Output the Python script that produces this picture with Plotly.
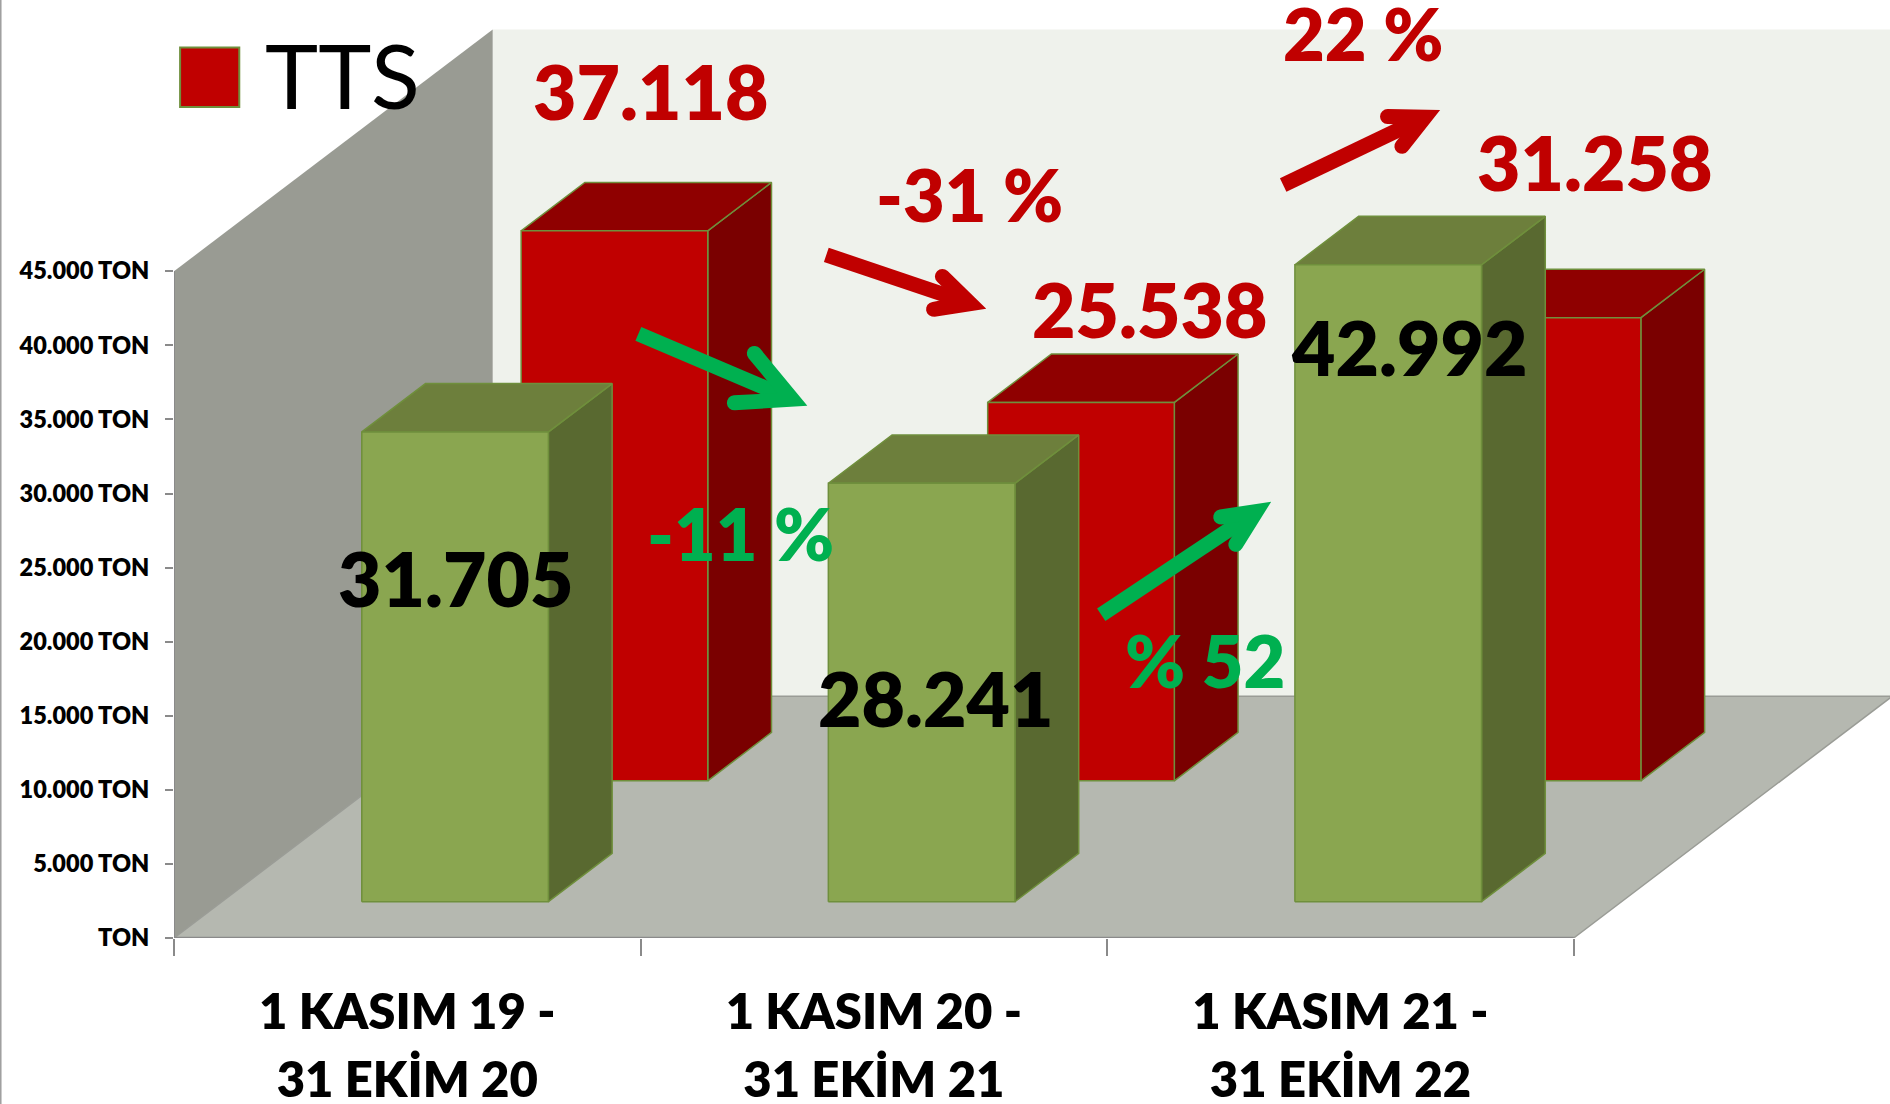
import math
import plotly.graph_objects as go

# ---------- data ----------
category_first = ["1 KASIM 19 -", "1 KASIM 20 -", "1 KASIM 21 -"]
category_second = ["31 EKİM 20", "31 EKİM 21", "31 EKİM 22"]
green_values = [31705, 28241, 42992]
red_values = [37118, 25538, 31258]
legend_name = "TTS"
y_ticks = [0, 5000, 10000, 15000, 20000, 25000, 30000, 35000, 40000, 45000]
y_labels = ["TON", "5.000 TON", "10.000 TON", "15.000 TON", "20.000 TON", "25.000 TON",
            "30.000 TON", "35.000 TON", "40.000 TON", "45.000 TON"]
change_red = ["-31 %", "22 %"]
change_green = ["-11 %", "% 52"]

# ---------- geometry ----------
W, H = 1890, 1104
X0, Y0 = 173.5, 938.5
CAT_PX, TON_PX = 466.7, 667.1 / 45000
DEPTH_X = 318.8 / CAT_PX          # category units per unit of depth
DEPTH_Y = 242 / TON_PX            # tons per unit of depth
X_MAX = (W - X0) / CAT_PX
Y_MAX = Y0 / TON_PX
BAR_W, BAR_GAP, BAR_D = 0.4, 0.3, 0.2
GREEN_D, RED_D = 0.15, 0.65


def px(x, y):
    return (x - X0) / CAT_PX, (Y0 - y) / TON_PX


def proj(x, d, v):
    return x + d * DEPTH_X, v + d * DEPTH_Y


def poly(points, fill, line=None, lw=1.5, name=""):
    xs, ys = zip(*points)
    return go.Scatter(x=list(xs) + [xs[0]], y=list(ys) + [ys[0]], mode="lines", fill="toself",
                      fillcolor=fill, line=dict(color=line or fill, width=lw if line else 0),
                      hoverinfo="skip", showlegend=False, name=name)


def bar(cat, value, depth, front, top, side, edge):
    x0 = cat + BAR_GAP
    x1 = x0 + BAR_W
    d0, d1 = depth, depth + BAR_D
    return [
        poly([proj(x1, d0, 0), proj(x1, d1, 0), proj(x1, d1, value), proj(x1, d0, value)], side, edge),
        poly([proj(x0, d0, value), proj(x1, d0, value), proj(x1, d1, value), proj(x0, d1, value)], top, edge),
        poly([proj(x0, d0, 0), proj(x1, d0, 0), proj(x1, d0, value), proj(x0, d0, value)], front, edge),
    ]


def arrow(tail, tip, b1, b2, color, w=15):
    ax, ay = tip[0] - tail[0], tip[1] - tail[1]
    L = math.hypot(ax, ay)
    ux, uy = ax / L, ay / L
    nx, ny = -uy, ux
    stop = (tip[0] - ux * 30, tip[1] - uy * 30)
    shaft = [(tail[0] + nx * w / 2, tail[1] + ny * w / 2), (stop[0] + nx * w / 2, stop[1] + ny * w / 2),
             (stop[0] - nx * w / 2, stop[1] - ny * w / 2), (tail[0] - nx * w / 2, tail[1] - ny * w / 2)]

    def barb(b):
        # rounded end of one barb: from its outer edge round to its inner edge
        dx, dy = b[0] - tip[0], b[1] - tip[1]
        bl = math.hypot(dx, dy)
        ex, ey = dx / bl, dy / bl
        mx, my = -ey, ex
        if mx * (tail[0] - b[0]) + my * (tail[1] - b[1]) < 0:
            mx, my = -mx, -my
        r = w / 2
        bx, by = b[0] - ex * r, b[1] - ey * r
        cx, cy = bx + mx * r, by + my * r
        return [(cx + r * (-mx * math.cos(t) + ex * math.sin(t)),
                 cy + r * (-my * math.cos(t) + ey * math.sin(t)))
                for t in [k * math.pi / 8 for k in range(9)]]

    cos_a = abs(((tip[0] - b1[0]) * ux + (tip[1] - b1[1]) * uy) / math.hypot(tip[0] - b1[0], tip[1] - b1[1]))
    sin_a = math.sqrt(max(1 - cos_a ** 2, 0.05))
    d = w / sin_a
    notch = (tip[0] - ux * d, tip[1] - uy * d)
    head = list(reversed(barb(b1))) + [tip] + barb(b2) + [notch]
    return [poly([px(*p) for p in shaft], color), poly([px(*p) for p in head], color)]


RED, GREEN_ARROW = "#C00000", "#00B050"
EDGE = "#6F8F3C"
AXIS = "#8A8A8A"
n = len(green_values)

traces = [
    poly([proj(0, 1, 0), proj(X_MAX, 1, 0), proj(X_MAX, 1, 45000), proj(0, 1, 45000)], "#EFF2EC"),
    poly([proj(0, 0, 0), proj(0, 1, 0), proj(0, 1, 45000), proj(0, 0, 45000)], "#999B93"),
    poly([proj(0, 0, 0), proj(n, 0, 0), proj(n, 1, 0), proj(0, 1, 0)], "#B5B8B0", "#9A9C96", 1.5),
]
for i, v in enumerate(red_values):
    traces += bar(i, v, RED_D, RED, "#8F0000", "#7A0000", EDGE)
for i, v in enumerate(green_values):
    traces += bar(i, v, GREEN_D, "#8AA650", "#6D7F3C", "#596930", EDGE)

# axis lines stop at the chart's own extent
traces.append(go.Scatter(x=[0, 0], y=[0, 45000], mode="lines", line=dict(color=AXIS, width=2),
                         hoverinfo="skip", showlegend=False))
traces.append(go.Scatter(x=[0, n], y=[0, 0], mode="lines", line=dict(color=AXIS, width=2.5),
                         hoverinfo="skip", showlegend=False))

traces += arrow((638, 334), (807, 406), (755, 343), (727, 411), GREEN_ARROW)
traces += arrow((826, 255), (986, 309), (942, 266), (927, 318), RED)
traces += arrow((1283, 185), (1440, 110), (1380, 109), (1403, 157), RED)
traces += arrow((1101, 615), (1271, 502), (1212, 511), (1238, 555), GREEN_ARROW)

# carrier for the second row of category labels
traces.append(go.Scatter(x=[i + 0.5 for i in range(n)], y=[0] * n, xaxis="x2", mode="markers",
                         marker=dict(opacity=0, size=1), hoverinfo="skip", showlegend=False))

fig = go.Figure(traces)


def fmt(v):
    return f"{v:,}".replace(",", ".")


def label(text, x, y, color, size=75, weight=800):
    xd, yd = px(x, y)
    fig.add_annotation(x=xd, y=yd, text=text, showarrow=False, xanchor="center", yanchor="middle",
                       font=dict(family="Lato", size=size, color=color, weight=weight))


label(fmt(red_values[0]), 650, 91, RED)
label(fmt(red_values[1]), 1149, 309, RED)
label(fmt(red_values[2]), 1594, 162, RED)
label(fmt(green_values[0]), 455, 578, "#000000")
label(fmt(green_values[1]), 935, 698, "#000000")
label(fmt(green_values[2]), 1409, 347, "#000000")
label(change_red[0], 969, 194, RED, size=72)
label(change_red[1], 1363, 33, RED, size=72)
label(change_green[0], 740, 533, GREEN_ARROW, size=72)
label(change_green[1], 1205, 660, GREEN_ARROW, size=72)

# legend: swatch + name
sx0, sy0 = px(179.6, 107)
sx1, sy1 = px(238.8, 47.5)
fig.add_shape(type="rect", x0=sx0, x1=sx1, y0=sy0, y1=sy1, fillcolor=RED, line=dict(color=EDGE, width=2))
label(legend_name, 342, 74, "#000000", size=90, weight=400)

# thin frame line at the left edge of the page
fig.add_shape(type="line", xref="paper", yref="paper", x0=-X0 / (W - X0), x1=-X0 / (W - X0), y0=-0.2, y1=1,
              line=dict(color="#A0A0A0", width=2))

cat_font = dict(family="Lato", size=49, color="black", weight=800)
fig.update_layout(
    width=W, height=H, margin=dict(l=X0, r=0, t=0, b=H - Y0, pad=0, autoexpand=False),
    paper_bgcolor="white", plot_bgcolor="white", showlegend=False,
    font=dict(family="Lato", color="black"),
    xaxis=dict(range=[0, X_MAX], showgrid=False, zeroline=False, showline=False, fixedrange=True,
               tickvals=[i + 0.5 for i in range(n)], ticktext=category_first, ticks="", ticklen=0,
               tickfont=cat_font, ticklabelstandoff=41,
               minor=dict(tickvals=list(range(n + 1)), ticks="outside", ticklen=17, tickwidth=2,
                          tickcolor=AXIS, showgrid=False)),
    xaxis2=dict(range=[0, X_MAX], overlaying="x", anchor="y", side="bottom", showgrid=False, zeroline=False,
                showline=False, fixedrange=True, tickvals=[i + 0.5 for i in range(n)],
                ticktext=category_second, ticks="", ticklen=0, tickfont=cat_font, ticklabelstandoff=109),
    yaxis=dict(range=[0, Y_MAX], showgrid=False, zeroline=False, showline=False, fixedrange=True,
               tickvals=y_ticks, ticktext=y_labels, ticks="outside", ticklen=8, tickwidth=2, tickcolor=AXIS,
               tickfont=dict(family="Lato", size=23.5, color="black", weight=800),
               ticklabelstandoff=11),
)

fig.write_html("out.html", post_script="document.body.style.margin='0';document.body.style.overflow='hidden';",
               config=dict(displayModeBar=False))
